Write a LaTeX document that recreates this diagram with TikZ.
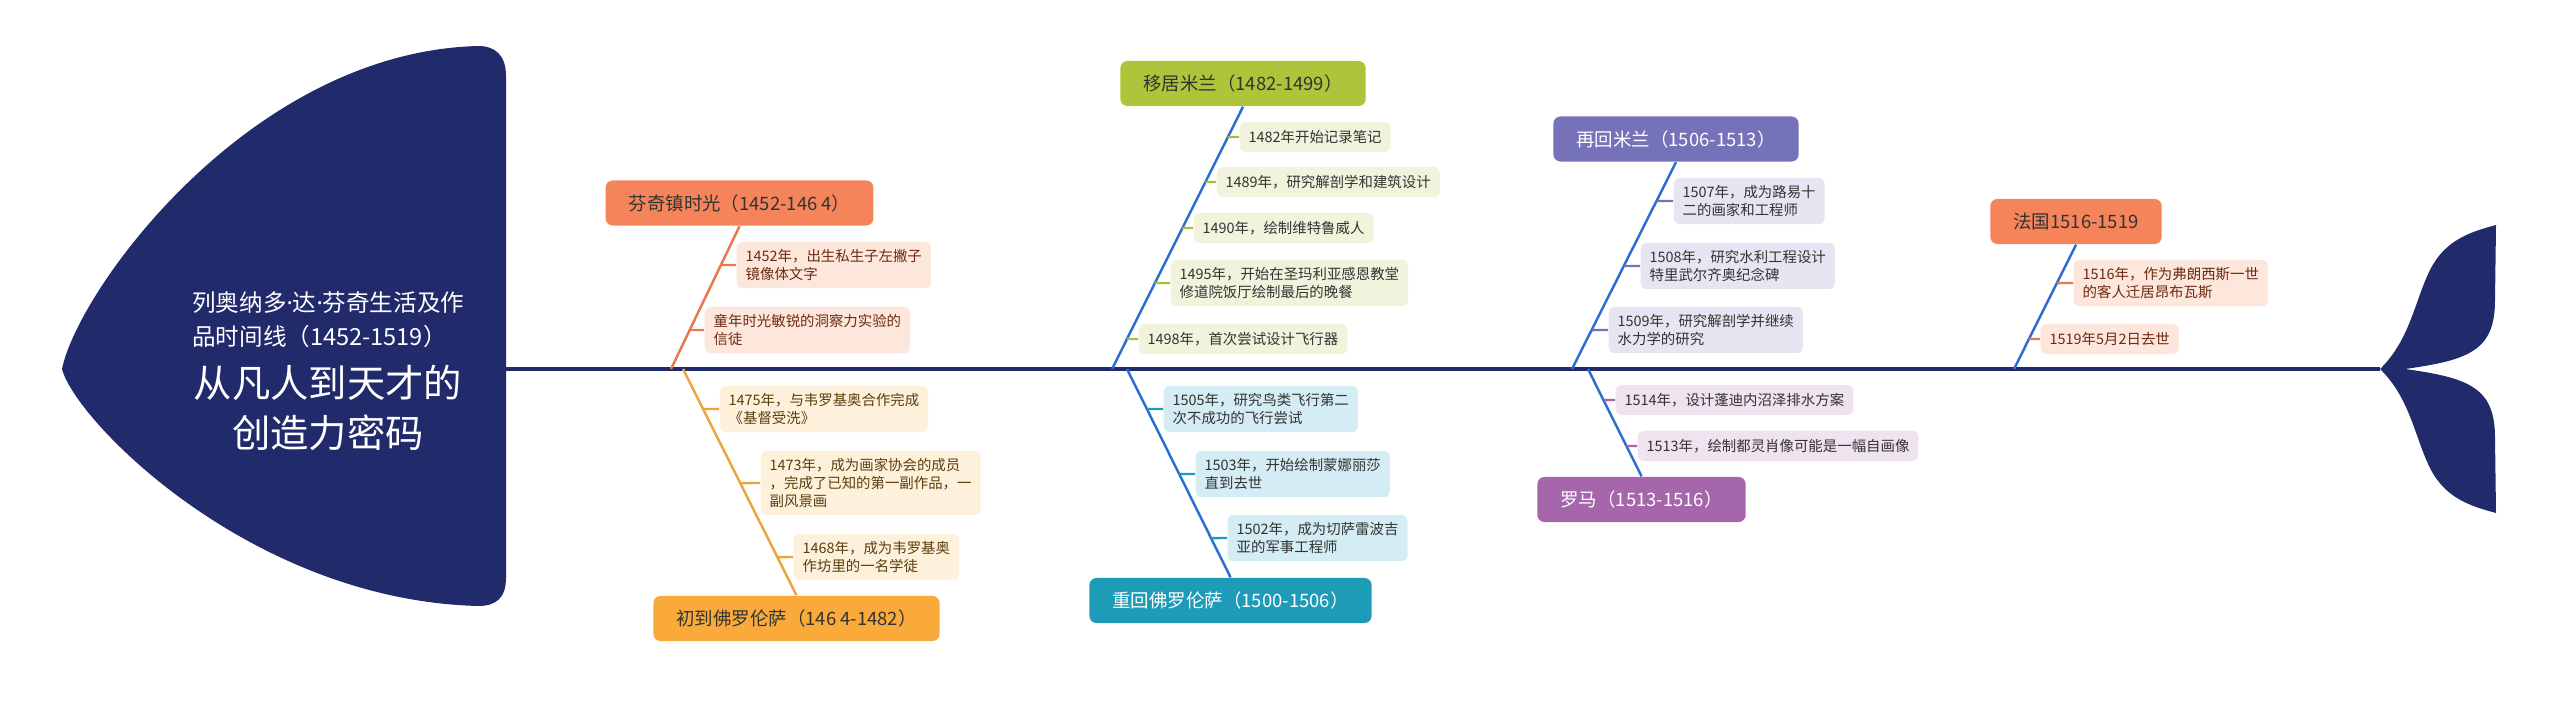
\documentclass[tikz,border=0pt]{standalone}
\usepackage{fontspec}
\setmainfont{Noto Sans CJK SC}
\newfontfamily\latinfont{Noto Sans}
\usepackage{tikz}
\usetikzlibrary{calc}
\usepackage{xcolor}
\definecolor{navy}{HTML}{212A6B}
\definecolor{ink}{HTML}{333333}
\definecolor{coral}{HTML}{F5845A}
\definecolor{coralbg}{HTML}{FDE6DC}
\definecolor{coralink}{HTML}{6E2A12}
\definecolor{coralbone}{HTML}{E8784D}
\definecolor{amber}{HTML}{F9AA3A}
\definecolor{amberbg}{HTML}{FEF1DB}
\definecolor{amberink}{HTML}{5C3E0E}
\definecolor{amberbone}{HTML}{F0A33A}
\definecolor{olive}{HTML}{AFC43A}
\definecolor{olivebg}{HTML}{F1F4DC}
\definecolor{olivetick}{HTML}{A9BE36}
\definecolor{lagoon}{HTML}{1E9BB7}
\definecolor{lagoonbg}{HTML}{D4ECF3}
\definecolor{iris}{HTML}{7572BA}
\definecolor{irisbg}{HTML}{E6E5F2}
\definecolor{plum}{HTML}{A566AC}
\definecolor{plumbg}{HTML}{EFE3F0}
\definecolor{bluebone}{HTML}{2C6DD0}

\begin{document}
\begin{tikzpicture}[x=0.01cm, y=-0.01cm,
  cat/.style={rounded corners=0.07cm, minimum height=0.45cm, inner xsep=0.23cm, font=\fontsize{5.25}{6}\selectfont},
  sub/.style={rounded corners=0.06cm, anchor=west, align=left, inner xsep=0.09cm, inner ysep=0.075cm, minimum height=0.30cm, font=\fontsize{4.1}{5.1}\selectfont},
  bone/.style={line width=0.7pt},
  tick/.style={line width=0.7pt}
]
  \useasboundingbox (0,0) rectangle (2560,703);

  % Fish head, spine and tail
  \fill[navy] (62,369) .. controls (78,290) and (250,52) .. (478,46) .. controls (496,46) and (506,56) .. (506,76) -- (506,578) .. controls (506,598) and (496,606) .. (478,606) .. controls (250,600) and (75,420) .. cycle;
  \coordinate (neck) at (506,369);
  \coordinate (tip) at (2380,369);
  \draw[navy, line width=1pt] (neck) -- (tip);
  \fill[navy] (tip) .. controls (2410,340) and (2415,300) .. (2430,270) .. controls (2445,240) and (2470,232) .. (2496,225) -- (2495,300) .. controls (2495,350) and (2470,360) .. (2405,369) .. controls (2470,378) and (2495,388) .. (2495,438) -- (2496,513) .. controls (2470,506) and (2445,498) .. (2430,468) .. controls (2415,438) and (2410,398) .. cycle;

  \node[anchor=west, text=white, align=left, font=\fontsize{6.7}{9.6}\selectfont] (title) at (180,320) {列奥纳多{\latinfont ·}达{\latinfont ·}芬奇生活及作\\品时间线（1452-1519）};
  \node[text=white, align=center, font=\fontsize{10.9}{14.2}\selectfont] (motto) at (328,408) {从凡人到天才的\\创造力密码};

  % Periods
  \node[cat, fill=coral, text=ink] (fenqi) at (739.5,203) {芬奇镇时光（1452-146 4）};
  \node[cat, fill=amber, text=ink] (flor1) at (796.5,618.5) {初到佛罗伦萨（146 4-1482）};
  \node[cat, fill=olive, text=ink] (milan1) at (1243,83.5) {移居米兰（1482-1499）};
  \node[cat, fill=lagoon, text=white] (flor2) at (1230.5,600.5) {重回佛罗伦萨（1500-1506）};
  \node[cat, fill=iris, text=white] (milan2) at (1676,139) {再回米兰（1506-1513）};
  \node[cat, fill=plum, text=white] (rome) at (1641.5,499.5) {罗马（1513-1516）};
  \node[cat, fill=coral, text=ink] (france) at (2076,221.5) {法国1516-1519};

  % Events
  \node[sub, fill=coralbg, text=coralink] (s11) at (736,265) {1452年，出生私生子左撇子\\镜像体文字};
  \node[sub, fill=coralbg, text=coralink] (s12) at (704,330) {童年时光敏锐的洞察力实验的\\信徒};

  \node[sub, fill=amberbg, text=amberink] (s21) at (719,409) {1475年，与韦罗基奥合作完成\\《基督受洗》};
  \node[sub, fill=amberbg, text=amberink] (s22) at (760,483) {1473年，成为画家协会的成员\\，完成了已知的第一副作品，一\\副风景画};
  \node[sub, fill=amberbg, text=amberink] (s23) at (793,557) {1468年，成为韦罗基奥\\作坊里的一名学徒};

  \node[sub, fill=olivebg, text=ink] (s31) at (1239,137) {1482年开始记录笔记};
  \node[sub, fill=olivebg, text=ink] (s32) at (1216,182) {1489年，研究解剖学和建筑设计};
  \node[sub, fill=olivebg, text=ink] (s33) at (1193,228) {1490年，绘制维特鲁威人};
  \node[sub, fill=olivebg, text=ink] (s34) at (1170,283) {1495年，开始在圣玛利亚感恩教堂\\修道院饭厅绘制最后的晚餐};
  \node[sub, fill=olivebg, text=ink] (s35) at (1138,339) {1498年，首次尝试设计飞行器};

  \node[sub, fill=lagoonbg, text=ink] (s41) at (1163,409) {1505年，研究鸟类飞行第二\\次不成功的飞行尝试};
  \node[sub, fill=lagoonbg, text=ink] (s42) at (1195,474) {1503年，开始绘制蒙娜丽莎\\直到去世};
  \node[sub, fill=lagoonbg, text=ink] (s43) at (1227,538) {1502年，成为切萨雷波吉\\亚的军事工程师};

  \node[sub, fill=irisbg, text=ink] (s51) at (1673,201) {1507年，成为路易十\\二的画家和工程师};
  \node[sub, fill=irisbg, text=ink] (s52) at (1640,266) {1508年，研究水利工程设计\\特里武尔齐奥纪念碑};
  \node[sub, fill=irisbg, text=ink] (s53) at (1608,330) {1509年，研究解剖学并继续\\水力学的研究};

  \node[sub, fill=plumbg, text=ink] (s61) at (1615,400) {1514年，设计蓬迪内沼泽排水方案};
  \node[sub, fill=plumbg, text=ink] (s62) at (1637,446) {1513年，绘制都灵肖像可能是一幅自画像};

  \node[sub, fill=coralbg, text=coralink] (s71) at (2073,283) {1516年，作为弗朗西斯一世\\的客人迁居昂布瓦斯};
  \node[sub, fill=coralbg, text=coralink] (s72) at (2040,339) {1519年5月2日去世};

  % Bones
  \coordinate (b1) at (671,369);
  \coordinate (b2) at (683,369);
  \coordinate (b3) at (1112,369);
  \coordinate (b4) at (1127,369);
  \coordinate (b5) at (1572,369);
  \coordinate (b6) at (1588,369);
  \coordinate (b7) at (2014,369);
  \draw[bone, coralbone] (fenqi.south) -- (b1);
  \draw[bone, amberbone] (flor1.north) -- (b2);
  \draw[bone, bluebone] (milan1.south) -- (b3);
  \draw[bone, bluebone] (flor2.north) -- (b4);
  \draw[bone, bluebone] (milan2.south) -- (b5);
  \draw[bone, bluebone] (rome.north) -- (b6);
  \draw[bone, bluebone] (france.south) -- (b7);

  % Ticks
  \foreach \s in {s11,s12}
    \draw[tick, coralbone] (\s.west) -- (intersection of fenqi.south--b1 and \s.west--\s.east);
  \foreach \s in {s21,s22,s23}
    \draw[tick, amberbone] (\s.west) -- (intersection of flor1.north--b2 and \s.west--\s.east);
  \foreach \s in {s31,s32,s33,s34,s35}
    \draw[tick, olivetick] (\s.west) -- (intersection of milan1.south--b3 and \s.west--\s.east);
  \foreach \s in {s41,s42,s43}
    \draw[tick, lagoon] (\s.west) -- (intersection of flor2.north--b4 and \s.west--\s.east);
  \foreach \s in {s51,s52,s53}
    \draw[tick, iris] (\s.west) -- (intersection of milan2.south--b5 and \s.west--\s.east);
  \foreach \s in {s61,s62}
    \draw[tick, plum] (\s.west) -- (intersection of rome.north--b6 and \s.west--\s.east);
  \foreach \s in {s71,s72}
    \draw[tick, coralbone] (\s.west) -- (intersection of france.south--b7 and \s.west--\s.east);
\end{tikzpicture}
\end{document}
